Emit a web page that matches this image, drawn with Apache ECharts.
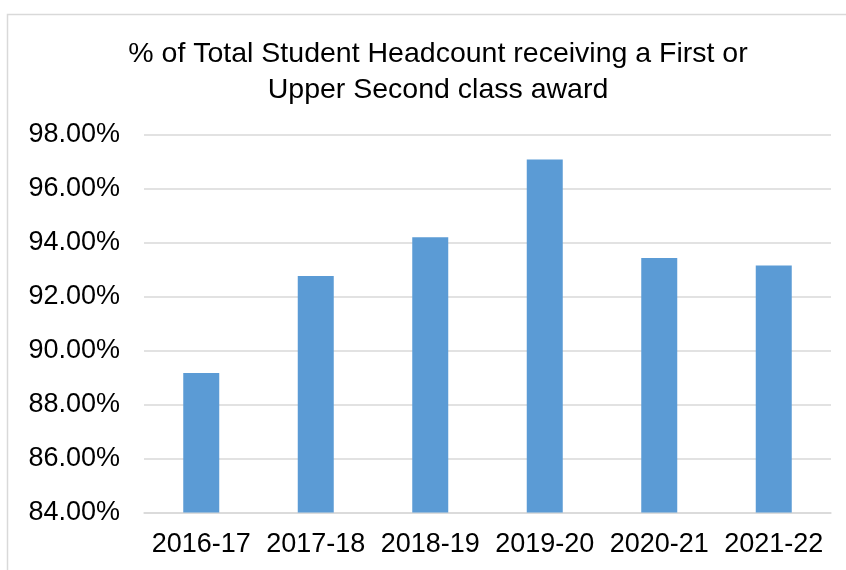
<!DOCTYPE html>
<html>
<head>
<meta charset="utf-8">
<script src="https://cdn.jsdelivr.net/npm/echarts@6/dist/echarts.min.js"></script>
<style>
  html, body { margin: 0; padding: 0; background: #fff; }
  #container { width: 846px; height: 570px; }
</style>
</head>
<body>
<div id="container"></div>
<script>
const years = ['2016-17', '2017-18', '2018-19', '2019-20', '2020-21', '2021-22']
const shareFirstOr21 = [89.17, 92.76, 94.19, 97.07, 93.43, 93.15]

const chart = echarts.init(document.getElementById('container'))

chart.setOption({
    backgroundColor: '#fff',
    animation: false,
    graphic: [
        {
            type: 'rect',
            shape: { x: 7.5, y: 14.5, width: 860, height: 600 },
            style: { fill: 'none', stroke: '#d9d9d9', lineWidth: 1.5 }
        }
    ],
    title: {
        text: '% of Total Student Headcount receiving a First or\nUpper Second class award',
        left: 433,
        textAlign: 'center',
        top: 31,
        textStyle: {
            fontFamily: 'Liberation Sans',
            fontWeight: 'normal',
            fontSize: 28.5,
            lineHeight: 36,
            color: '#000'
        }
    },
    grid: {
        left: 144,
        right: 15,
        top: 134.5,
        bottom: 57.5,
        containLabel: false
    },
    xAxis: {
        type: 'category',
        data: years,
        axisLine: { lineStyle: { color: '#d9d9d9', width: 1.5 } },
        axisTick: { show: false },
        axisLabel: {
            interval: 0,
            fontFamily: 'Liberation Sans',
            fontSize: 27,
            color: '#000',
            margin: 19
        }
    },
    yAxis: {
        type: 'value',
        min: 84,
        max: 98,
        interval: 2,
        axisLine: { show: false },
        axisTick: { show: false },
        splitLine: { lineStyle: { color: '#d9d9d9', width: 1.5 } },
        axisLabel: {
            fontFamily: 'Liberation Sans',
            fontSize: 27,
            color: '#000',
            margin: 24,
            formatter: v => v.toFixed(2) + '%'
        }
    },
    series: [
        {
            type: 'bar',
            data: shareFirstOr21,
            barWidth: 36,
            itemStyle: { color: '#5b9bd5' }
        }
    ]
})
</script>
</body>
</html>
